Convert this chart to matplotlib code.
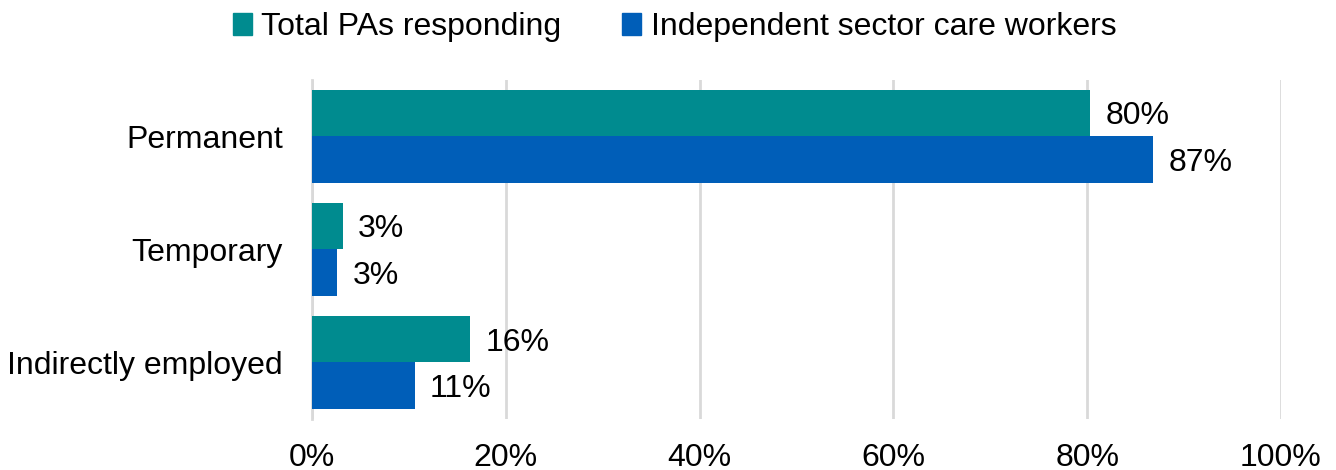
import numpy as np
import matplotlib.pyplot as plt
from matplotlib.patches import Patch

plt.rcParams['font.family'] = ['Liberation Sans', 'DejaVu Sans']

categories = ["Permanent", "Temporary", "Indirectly employed"]
series_names = ["Total PAs responding", "Independent sector care workers"]
pa_values = [80.3, 3.2, 16.3]
care_values = [86.8, 2.6, 10.6]
xticks = [0, 20, 40, 60, 80, 100]

teal = '#008B8F'
blue = '#005EB8'
grid_grey = '#D9D9D9'
fs = 23

fig = plt.figure(figsize=(13.36, 4.70), dpi=100)
ax = fig.add_axes([0.2335, 0.1085, 0.7253, 0.7215])

y = np.arange(len(categories))
h = 0.415
bars_pa = ax.barh(y - h / 2, pa_values, height=h, color=teal, zorder=3)
bars_care = ax.barh(y + h / 2, care_values, height=h, color=blue, zorder=3)

# percentage labels just past the end of each bar
for bars, vals in [(bars_pa, pa_values), (bars_care, care_values)]:
    for b, v in zip(bars, vals):
        ax.annotate(f"{round(v):d}%", (b.get_width(), b.get_y() + b.get_height() / 2),
                    xytext=(11, 0), textcoords='offset points',
                    va='center_baseline', ha='left', fontsize=fs)

ax.set_xlim(0, 100)
ax.set_ylim(len(categories) - 0.5, -0.5)
ax.set_xticks(xticks)
ax.set_xticklabels([f"{t}%" for t in xticks], fontsize=fs)
ax.set_yticks(y)
ax.set_yticklabels(categories, fontsize=fs)
ax.tick_params(length=0)
ax.tick_params(axis='x', pad=17)
ax.tick_params(axis='y', pad=21)

ax.grid(axis='x', color=grid_grey, linewidth=2, zorder=0)
for side in ['top', 'right', 'bottom']:
    ax.spines[side].set_visible(False)
ax.spines['left'].set_color(grid_grey)
ax.spines['left'].set_linewidth(2)

handles = [Patch(color=teal), Patch(color=blue)]
fig.legend(handles, series_names, loc='center', bbox_to_anchor=(0.505, 0.942),
           ncol=2, frameon=False, fontsize=fs, handlelength=0.6, handleheight=0.7,
           handletextpad=0.3, columnspacing=1.9)

fig.savefig('out.png', dpi=100)
